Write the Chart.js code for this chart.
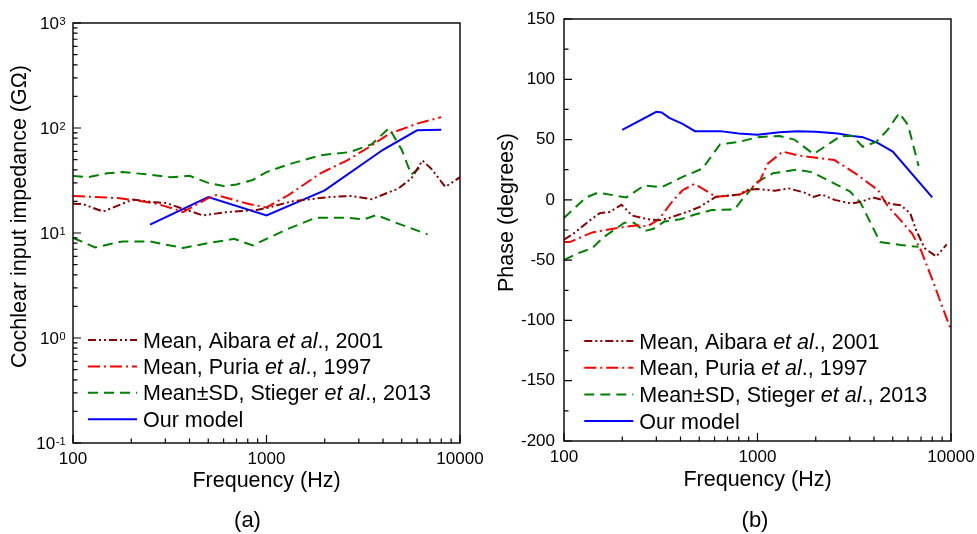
<!DOCTYPE html>
<html>
<head>
<meta charset="utf-8">
<script src="https://cdn.jsdelivr.net/npm/chart.js@4.4.1/dist/chart.umd.min.js"></script>
<style>
  html, body { margin: 0; padding: 0; background: #fff; }
  body { width: 977px; height: 534px; position: relative; overflow: hidden; }
  canvas { position: absolute; top: 0; }
  #impedance { left: 0; }
  #phase { left: 488px; }
</style>
</head>
<body>
<canvas id="impedance" width="488" height="534"></canvas>
<canvas id="phase" width="489" height="534"></canvas>
<script>
// ---- (a) impedance magnitude, GOhm ----
const aibaraMagFreq = [100, 113, 143, 204, 260, 304, 370, 470, 620, 890, 1000, 1350, 2100, 2750, 3500, 4800, 5600, 6400, 7100, 8400, 10000];
const aibaraMag = [19, 18.8, 16, 20.8, 19.7, 19.3, 17, 14.7, 15.8, 16.6, 17.3, 20, 22, 22.5, 21, 26.5, 33, 49, 41, 27.5, 34];

const puriaMagFreq = [100, 170, 210, 270, 350, 370, 500, 550, 800, 1000, 1300, 1900, 2600, 3400, 4300, 6000, 8000];
const puriaMag = [22.5, 21.5, 20.5, 19, 16.5, 15.8, 21.5, 23, 19, 17.5, 23, 37, 49, 66, 88, 110, 127];

const stiegerHiMagFreq = [100, 120, 150, 180, 250, 320, 400, 500, 600, 700, 850, 1000, 1300, 1900, 2700, 3500, 4300, 5000, 5600, 6500];
const stiegerHiMag = [35, 34, 37, 38, 36, 34, 35, 30, 28, 29, 32, 38, 45, 55, 59, 70, 100, 62, 36, 45];

const stiegerLoMagFreq = [100, 130, 180, 250, 370, 500, 680, 850, 1000, 1300, 1800, 2600, 3200, 3700, 4800, 6800];
const stiegerLoMag = [9, 7.3, 8.3, 8.3, 7.2, 8, 8.8, 7.6, 8.8, 11, 14, 14, 13.5, 14.8, 12.3, 9.7];

const modelMagFreq = [250, 500, 1000, 2000, 4000, 6000, 8000];
const modelMag = [12, 22, 14.7, 25.5, 62, 95, 96];

// ---- (b) phase, degrees ----
const aibaraPhFreq = [100, 112, 136, 153, 173, 198, 225, 270, 310, 350, 450, 500, 610, 800, 900, 1000, 1230, 1450, 1750, 1950, 2150, 2500, 3050, 3450, 3950, 4400, 4900, 5500, 6150, 6600, 7300, 8400, 9500];
const aibaraPh = [-33, -28, -17, -11, -10, -4, -13, -16, -17, -15, -9, -6, 2.5, 4.5, 8.5, 9, 7.5, 9.5, 6, 2.5, 4.5, 0, -3, -1.5, 2, 0, -3.5, -4.5, -11, -25, -40, -47, -37];

const puriaPhFreq = [100, 107, 140, 195, 240, 270, 310, 360, 410, 470, 500, 610, 800, 900, 1030, 1130, 1350, 1600, 2250, 2500, 3200, 4200, 4700, 5500, 6300, 7000, 8000, 10000];
const puriaPh = [-35, -35, -27, -23, -21, -22, -16, -2, 8, 13, 11, 2.5, 4, 8, 16, 30, 40, 37, 34, 33, 22, 8, -5, -17, -28, -42, -66, -108];

const stiegerHiPhFreq = [100, 130, 150, 210, 260, 320, 410, 520, 640, 800, 1000, 1300, 1550, 1950, 2700, 3100, 3500, 4100, 4700, 5400, 6000, 6800];
const stiegerHiPh = [-15, 2, 6, 2, 12, 10.5, 19, 26, 46, 48, 52, 53, 50, 38, 53, 53, 44, 48, 58, 72, 62, 28];

const stiegerLoPhFreq = [100, 115, 140, 160, 205, 230, 260, 290, 330, 400, 480, 580, 760, 830, 1000, 1200, 1600, 1900, 2400, 3000, 3400, 4300, 5500, 6800];
const stiegerLoPh = [-50, -45, -40, -31, -19, -19, -26, -24, -18, -16, -12, -8.5, -8, 0, 15, 22, 25, 23, 15, 7, -2, -35, -37.5, -39];

const modelPhFreq = [200, 300, 320, 350, 410, 475, 640, 800, 1000, 1300, 1600, 2000, 2600, 3100, 3500, 4200, 5000, 8000];
const modelPh = [58, 73, 72.5, 68, 63, 57, 57, 55, 54, 56, 57, 56.5, 55, 53, 52, 47, 40, 2];

const xTickLabels = [100, 1000, 10000];

// styles
const FONT = '"Liberation Sans", Arial, Helvetica, sans-serif';
const colors = {
  aibara: "#880000",
  puria: "#ff0000",
  stieger: "#008000",
  model: "#0000ff",
};
const dashes = {
  aibara: [8, 3, 2, 3, 2, 3],
  puria: [12, 4, 2, 4],
  stieger: [10, 6],
  model: [],
};

const legendItems = [
  { key: "aibara", parts: ["Mean, Aibara ", "et al", "., 2001"] },
  { key: "puria", parts: ["Mean, Puria ", "et al", "., 1997"] },
  { key: "stieger", parts: ["Mean\u00b1SD, Stieger ", "et al", "., 2013"] },
  { key: "model", parts: ["Our model"] },
];

function toPoints(xs, ys) {
  return xs.map((x, i) => ({ x: x, y: ys[i] }));
}

function series(key, xs, ys) {
  return {
    data: toPoints(xs, ys),
    showLine: true,
    borderColor: colors[key],
    backgroundColor: colors[key],
    borderWidth: 2,
    borderDash: dashes[key],
    pointRadius: 0,
    tension: 0,
    fill: false,
  };
}

function isDecade(v) {
  const l = Math.log10(v);
  return Math.abs(l - Math.round(l)) < 1e-9;
}

// frame, inward tick marks, custom texts and legend
function decorPlugin(cfg) {
  return {
    id: "decor",
    afterDraw(chart) {
      const ctx = chart.ctx;
      const a = chart.chartArea;
      const xs = chart.scales.x;
      const ys = chart.scales.y;
      ctx.save();
      ctx.strokeStyle = "#000";
      ctx.lineWidth = 1.4;
      ctx.setLineDash([]);
      ctx.strokeRect(a.left, a.top, a.right - a.left, a.bottom - a.top);

      // x ticks (log)
      ctx.lineWidth = 1.2;
      ctx.beginPath();
      for (let d = 100; d <= 10000; d *= 10) {
        for (let m = 1; m <= 9; m++) {
          const f = d * m;
          if (f > 10000) break;
          const px = xs.getPixelForValue(f);
          const len = m === 1 ? 8 : 4.5;
          ctx.moveTo(px, a.bottom);
          ctx.lineTo(px, a.bottom - len);
        }
      }
      // y ticks
      cfg.yTicks(ys).forEach(([v, major]) => {
        const py = ys.getPixelForValue(v);
        ctx.moveTo(a.left, py);
        ctx.lineTo(a.left + (major ? 8 : 4.5), py);
      });
      ctx.stroke();

      // custom y labels (powers of ten)
      if (cfg.powerLabels) {
        ctx.fillStyle = "#000";
        ctx.textAlign = "right";
        ctx.textBaseline = "alphabetic";
        cfg.powerLabels.forEach((e) => {
          const py = ys.getPixelForValue(Math.pow(10, e));
          const exp = String(e);
          ctx.font = "11px " + FONT;
          const ew = ctx.measureText(exp).width;
          ctx.fillText(exp, 65.5, py + 1.8);
          ctx.font = "17px " + FONT;
          ctx.fillText("10", 65.5 - ew - 0.5, py + 6.4);
        });
      }

      // y title
      ctx.fillStyle = "#000";
      ctx.font = "21.5px " + FONT;
      ctx.textAlign = "center";
      ctx.textBaseline = "middle";
      ctx.save();
      ctx.translate(cfg.yTitleX, cfg.yTitleY);
      ctx.rotate(-Math.PI / 2);
      ctx.fillText(cfg.yTitle, 0, 0);
      ctx.restore();

      // panel label
      ctx.font = "22px " + FONT;
      ctx.textBaseline = "alphabetic";
      ctx.fillText(cfg.panel, cfg.panelX, 527);

      // legend
      ctx.textAlign = "left";
      legendItems.forEach((item, i) => {
        const y = cfg.legendY + i * cfg.legendStep;
        ctx.strokeStyle = colors[item.key];
        ctx.lineWidth = 2;
        ctx.setLineDash(dashes[item.key]);
        ctx.beginPath();
        ctx.moveTo(cfg.legendX1, y);
        ctx.lineTo(cfg.legendX2, y);
        ctx.stroke();
        ctx.setLineDash([]);
        let x = cfg.legendX3;
        item.parts.forEach((t, j) => {
          ctx.font = (j === 1 ? "italic " : "") + "21.5px " + FONT;
          ctx.fillStyle = "#000";
          ctx.fillText(t, x, y + 7.6);
          x += ctx.measureText(t).width;
        });
      });
      ctx.restore();
    },
  };
}

function xAxis(height, titlePad) {
  return {
    type: "logarithmic",
    min: 100,
    max: 10000,
    afterFit: (s) => {
      s.height = height;
      // keep the plot edges fixed; the end labels fit in the margins
      s.paddingLeft = 0;
      s.paddingRight = 0;
    },
    grid: { display: false, drawTicks: false },
    border: { display: false },
    ticks: {
      autoSkip: false,
      maxRotation: 0,
      padding: 6,
      color: "#000",
      font: { family: FONT, size: 17 },
      callback: (v) => (xTickLabels.includes(v) || isDecade(v) ? String(v) : ""),
    },
    title: {
      display: true,
      text: "Frequency (Hz)",
      color: "#000",
      font: { family: FONT, size: 21.5 },
      padding: { top: 0, bottom: titlePad },
    },
  };
}

function yFit(width) {
  return (s) => {
    s.width = width;
    s.paddingTop = 0;
    s.paddingBottom = 0;
  };
}

const baseOptions = {
  responsive: false,
  animation: false,
  events: [],
  plugins: { legend: { display: false }, tooltip: { enabled: false } },
};

// (a) impedance
new Chart(document.getElementById("impedance"), {
  type: "scatter",
  data: {
    datasets: [
      series("aibara", aibaraMagFreq, aibaraMag),
      series("puria", puriaMagFreq, puriaMag),
      series("stieger", stiegerHiMagFreq, stiegerHiMag),
      series("stieger", stiegerLoMagFreq, stiegerLoMag),
      series("model", modelMagFreq, modelMag),
    ],
  },
  options: Object.assign({}, baseOptions, {
    layout: { autoPadding: false, padding: { top: 23, right: 28, left: 0, bottom: 0 } },
    scales: {
      x: xAxis(91, 40),
      y: {
        type: "logarithmic",
        min: 0.1,
        max: 1000,
        afterFit: yFit(73),
        grid: { display: false, drawTicks: false },
        border: { display: false },
        ticks: { display: false },
      },
    },
  }),
  plugins: [
    decorPlugin({
      yTicks: (ys) => {
        const out = [];
        for (let e = -1; e <= 3; e++) {
          out.push([Math.pow(10, e), true]);
          if (e < 3) for (let m = 2; m <= 9; m++) out.push([m * Math.pow(10, e), false]);
        }
        return out;
      },
      powerLabels: [-1, 0, 1, 2, 3],
      yTitle: "Cochlear input impedance (G\u03a9)",
      yTitleX: 20.5,
      yTitleY: 216.5,
      panel: "(a)",
      panelX: 247.5,
      legendX1: 88,
      legendX2: 137,
      legendX3: 143,
      legendY: 340,
      legendStep: 26.4,
    }),
  ],
});

// (b) phase
new Chart(document.getElementById("phase"), {
  type: "scatter",
  data: {
    datasets: [
      series("aibara", aibaraPhFreq, aibaraPh),
      series("puria", puriaPhFreq, puriaPh),
      series("stieger", stiegerHiPhFreq, stiegerHiPh),
      series("stieger", stiegerLoPhFreq, stiegerLoPh),
      series("model", modelPhFreq, modelPh),
    ],
  },
  options: Object.assign({}, baseOptions, {
    layout: { autoPadding: false, padding: { top: 19, right: 26, left: 0, bottom: 0 } },
    scales: {
      x: xAxis(93, 41.5),
      y: {
        type: "linear",
        min: -200,
        max: 150,
        afterFit: yFit(76),
        grid: { display: false, drawTicks: false },
        border: { display: false },
        ticks: {
          stepSize: 50,
          padding: 9,
          color: "#000",
          font: { family: FONT, size: 17 },
        },
      },
    },
  }),
  plugins: [
    decorPlugin({
      yTicks: () => {
        const out = [];
        for (let v = -200; v <= 150; v += 25) out.push([v, v % 50 === 0]);
        return out;
      },
      powerLabels: null,
      yTitle: "Phase (degrees)",
      yTitleX: 19.2,
      yTitleY: 212.5,
      panel: "(b)",
      panelX: 267,
      legendX1: 96.3,
      legendX2: 145.3,
      legendX3: 151.3,
      legendY: 341,
      legendStep: 26.7,
    }),
  ],
});
</script>
</body>
</html>
